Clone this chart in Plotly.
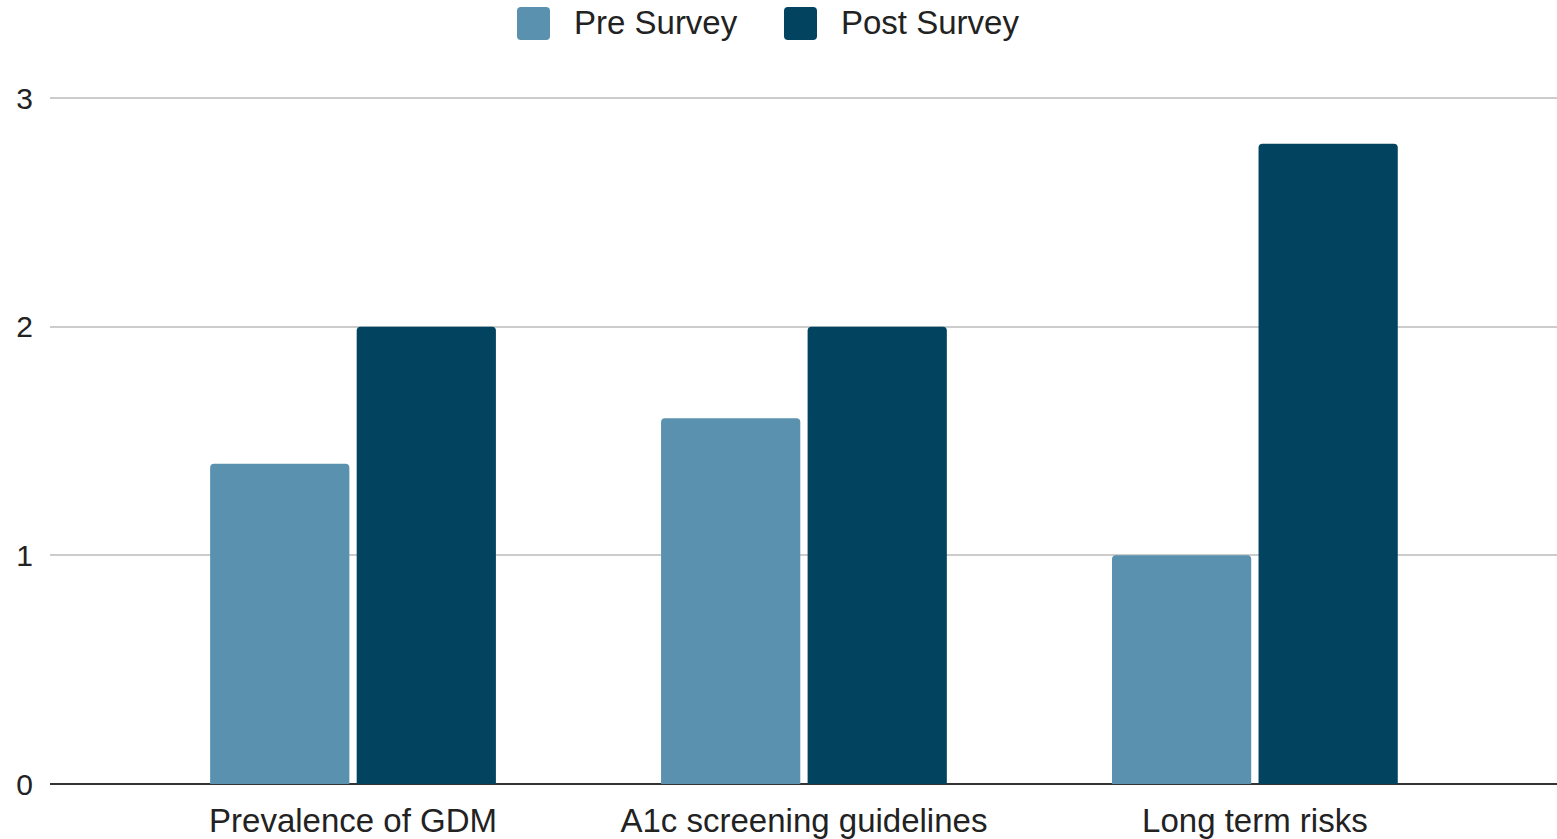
import plotly.graph_objects as go

# Survey results by topic
categories = ["Prevalence of GDM", "A1c screening guidelines", "Long term risks"]
pre_survey = [1.4, 1.6, 1.0]
post_survey = [2.0, 2.0, 2.8]
y_ticks = [0, 1, 2, 3]

PRE_COLOR = "#5a91ae"
POST_COLOR = "#02445f"
FONT = "Liberation Sans, Arial, sans-serif"
TEXT_COLOR = "#222222"

W, H = 1557, 839
M_L, M_R, M_T, M_B = 50, 0, 96, 55
Y_TOP = 3 + 2 / (686 / 3)  # a little headroom so the top gridline is drawn

fig = go.Figure()
fig.add_trace(go.Bar(name="Pre Survey", x=categories, y=pre_survey,
                     marker=dict(color=PRE_COLOR, line=dict(width=0)),
                     showlegend=False))
fig.add_trace(go.Bar(name="Post Survey", x=categories, y=post_survey,
                     marker=dict(color=POST_COLOR, line=dict(width=0)),
                     showlegend=False))

# Legend drawn as rounded swatches plus text above the plot
plot_w = W - M_L - M_R
plot_h = H - M_T - M_B


def px_x(px):
    return (px - M_L) / plot_w


def px_y(py):
    return (H - M_B - py) / plot_h


def rounded_rect(x0, y0, x1, y1, r):
    # pixel box -> SVG path in paper coordinates with rounded corners
    pts = []
    pts.append(f"M {px_x(x0 + r)},{px_y(y0)}")
    pts.append(f"L {px_x(x1 - r)},{px_y(y0)}")
    pts.append(f"Q {px_x(x1)},{px_y(y0)} {px_x(x1)},{px_y(y0 + r)}")
    pts.append(f"L {px_x(x1)},{px_y(y1 - r)}")
    pts.append(f"Q {px_x(x1)},{px_y(y1)} {px_x(x1 - r)},{px_y(y1)}")
    pts.append(f"L {px_x(x0 + r)},{px_y(y1)}")
    pts.append(f"Q {px_x(x0)},{px_y(y1)} {px_x(x0)},{px_y(y1 - r)}")
    pts.append(f"L {px_x(x0)},{px_y(y0 + r)}")
    pts.append(f"Q {px_x(x0)},{px_y(y0)} {px_x(x0 + r)},{px_y(y0)}")
    pts.append("Z")
    return " ".join(pts)


legend_items = [("Pre Survey", PRE_COLOR, 517), ("Post Survey", POST_COLOR, 784)]
shapes = []
annotations = []
for label, color, x0 in legend_items:
    shapes.append(dict(
        type="path", xref="paper", yref="paper",
        path=rounded_rect(x0, 7, x0 + 33, 40, 4),
        fillcolor=color, line=dict(width=0), layer="above",
    ))
    annotations.append(dict(
        text=label, xref="paper", yref="paper",
        x=px_x(x0 + 55), y=px_y(23),
        xanchor="left", yanchor="middle", showarrow=False,
        font=dict(family=FONT, size=33, color=TEXT_COLOR),
    ))

fig.update_layout(
    width=W, height=H,
    margin=dict(l=M_L, r=M_R, t=M_T, b=M_B, pad=0),
    paper_bgcolor="white", plot_bgcolor="white",
    barmode="group", bargap=0.35, bargroupgap=0.05,
    barcornerradius=4,
    font=dict(family=FONT, size=33, color=TEXT_COLOR),
    shapes=shapes, annotations=annotations,
    xaxis=dict(
        range=[-0.672, 2.67], showgrid=False, zeroline=False,
        showline=False, ticks="", ticklabelstandoff=14,
        tickfont=dict(family=FONT, size=33, color=TEXT_COLOR),
    ),
    yaxis=dict(
        range=[0, Y_TOP], tickvals=y_ticks, ticktext=[str(v) for v in y_ticks],
        showgrid=True, gridcolor="#cccccc", gridwidth=2,
        zeroline=True, zerolinecolor="#333333", zerolinewidth=2,
        showline=False, ticks="", ticklabelstandoff=16,
        tickfont=dict(family=FONT, size=30, color=TEXT_COLOR),
    ),
)

fig.write_html("out.html")
